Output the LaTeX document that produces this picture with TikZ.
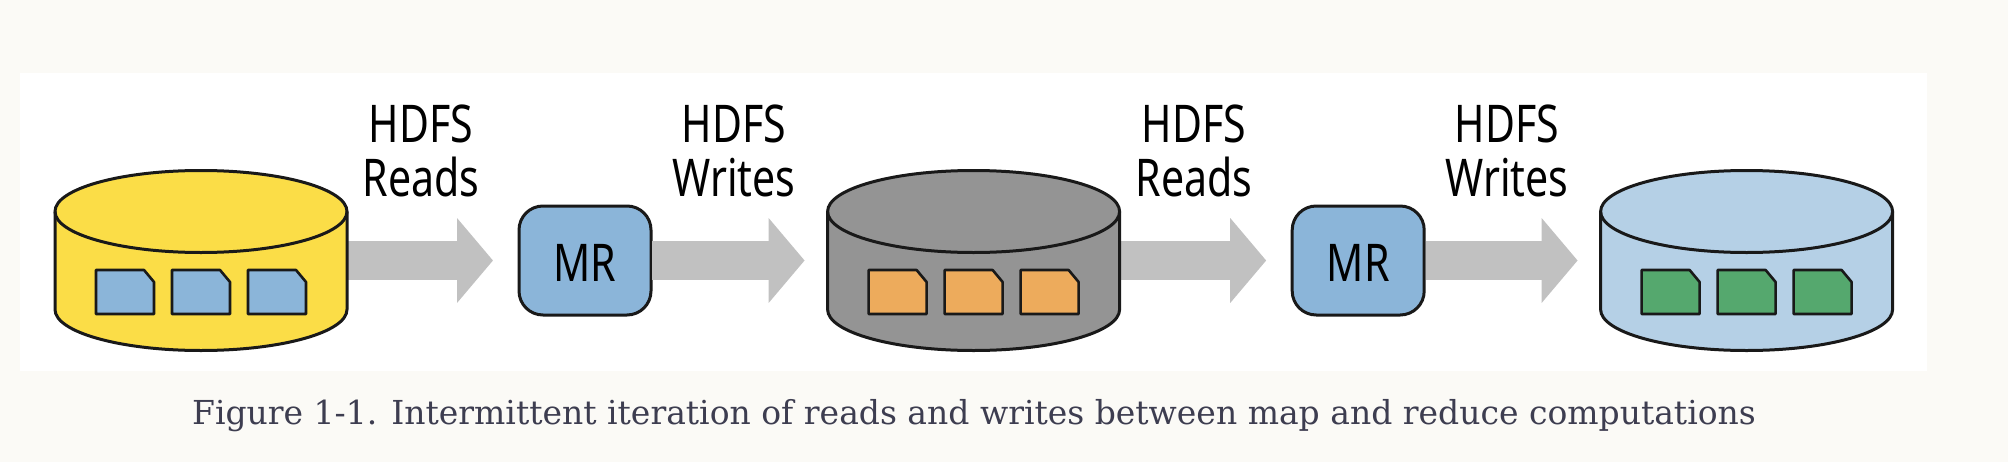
\documentclass[tikz,border=0pt]{standalone}
\usepackage{fontspec}
\setmainfont{DejaVu Serif}
\newfontfamily\flowfont[FakeStretch=0.79]{Noto Sans}
\usepackage{xcolor}
\usepackage{tikz}
\usetikzlibrary{positioning}
\usetikzlibrary{calc}
\usetikzlibrary{arrows.meta}
\definecolor{pagebg}{HTML}{FBFAF6}
\definecolor{capink}{HTML}{3D3D50}
\definecolor{yellowdb}{HTML}{FBDD47}
\definecolor{greydb}{HTML}{949494}
\definecolor{paledb}{HTML}{B5D0E6}
\definecolor{bluebox}{HTML}{8BB5D9}
\definecolor{orangedoc}{HTML}{EDAB5C}
\definecolor{greendoc}{HTML}{55A86E}
\definecolor{flowgrey}{HTML}{C1C1C1}
% store outline round a named node
\newcommand{\dbdraw}[2]{
 \draw[dbline,fill=#2] ($(#1.north west)+(0,-20.5pt)$) -- ($(#1.south west)+(0,20.5pt)$)
   arc[start angle=180,end angle=360,x radius=73pt,y radius=20.5pt]
   -- ($(#1.north east)+(0,-20.5pt)$)
   arc[start angle=0,end angle=180,x radius=73pt,y radius=20.5pt] -- cycle;
 \draw[dbline] ($(#1.north west)+(0,-20.5pt)$)
   arc[start angle=180,end angle=360,x radius=73pt,y radius=20.5pt];
}
% sheet with a cut corner round a named node
\newcommand{\docdraw}[2]{
 \draw[docline,fill=#2] (#1.south west) -- (#1.south east) -- ($(#1.north east)+(0,-6pt)$)
   -- ($(#1.north east)+(-5pt,0)$) -- (#1.north west) -- cycle;
}
\begin{document}
\begin{tikzpicture}[
  node distance = 9pt,
  db/.style = {minimum width=146pt,minimum height=90pt,inner sep=0pt,outer sep=0pt},
  dbline/.style = {draw=black!90,line width=1.5pt,line join=round},
  mr/.style = {draw=black!90,line width=1.5pt,rounded corners=12pt,fill=bluebox,
        minimum width=66pt,minimum height=54.5pt,outer sep=0pt,text height=21pt,text depth=0pt,
        font=\flowfont\fontsize{26}{26}\selectfont},
  doc/.style = {minimum width=29pt,minimum height=22pt,inner sep=0pt,outer sep=0pt},
  docline/.style = {draw=black!90,line width=1.3pt,line join=round},
  flowlab/.style = {align=center,font=\flowfont\fontsize{26}{27}\selectfont},
  flow/.style = {draw=flowgrey,line width=19.5pt,shorten <=0.7pt,shorten >=13pt,
        -{Triangle[length=18pt,width=41.5pt,fill=flowgrey]}},
  flowb/.style = {flow,shorten >=11.5pt}
]
 \path[use as bounding box,fill=pagebg] (0,0) rectangle (1004pt,231pt);
 \fill[white] (10pt,45.5pt) rectangle (963.5pt,194.5pt);
 % stores and jobs
 \node[db] (db1) at (100.5pt,100.75pt) {};
 \node[mr,right=86pt of db1] (mr1) {MR};
 \node[db,right=88.3pt of mr1] (db2) {};
 \node[mr,right=86.3pt of db2] (mr2) {MR};
 \node[db,right=88.2pt of mr2] (db3) {};
 % block arrows
 \draw[flow] (db1) -- (mr1);
 \draw[flowb] (mr1) -- (db2);
 \draw[flow] (db2) -- (mr2);
 \draw[flowb] (mr2) -- (db3);
 \dbdraw{db1}{yellowdb}
 \dbdraw{db2}{greydb}
 \dbdraw{db3}{paledb}
 % documents
 \node[doc] (a2) at (100.5pt,85pt) {};
 \node[doc,left=of a2] (a1) {};
 \node[doc,right=of a2] (a3) {};
 \node[doc] (b2) at (db2 |- a2) {};
 \node[doc,left=of b2] (b1) {};
 \node[doc,right=of b2] (b3) {};
 \node[doc] (c2) at (db3 |- a2) {};
 \node[doc,left=of c2] (c1) {};
 \node[doc,right=of c2] (c3) {};
 \docdraw{a1}{bluebox} \docdraw{a2}{bluebox} \docdraw{a3}{bluebox}
 \docdraw{b1}{orangedoc} \docdraw{b2}{orangedoc} \docdraw{b3}{orangedoc}
 \docdraw{c1}{greendoc} \docdraw{c2}{greendoc} \docdraw{c3}{greendoc}
 % labels
 \node[flowlab] (l1) at (210.5pt,155.5pt) {HDFS\\Reads};
 \node[flowlab] (l2) at (367pt,155.5pt) {HDFS\\Writes};
 \node[flowlab] (l3) at (597pt,155.5pt) {HDFS\\Reads};
 \node[flowlab] (l4) at (753.5pt,155.5pt) {HDFS\\Writes};
 \node[text=capink,font=\fontsize{16.5}{20}\selectfont] (cap) at (487pt,23pt)
   {Figure 1-1. Intermittent iteration of reads and writes between map and reduce computations};
\end{tikzpicture}
\end{document}
